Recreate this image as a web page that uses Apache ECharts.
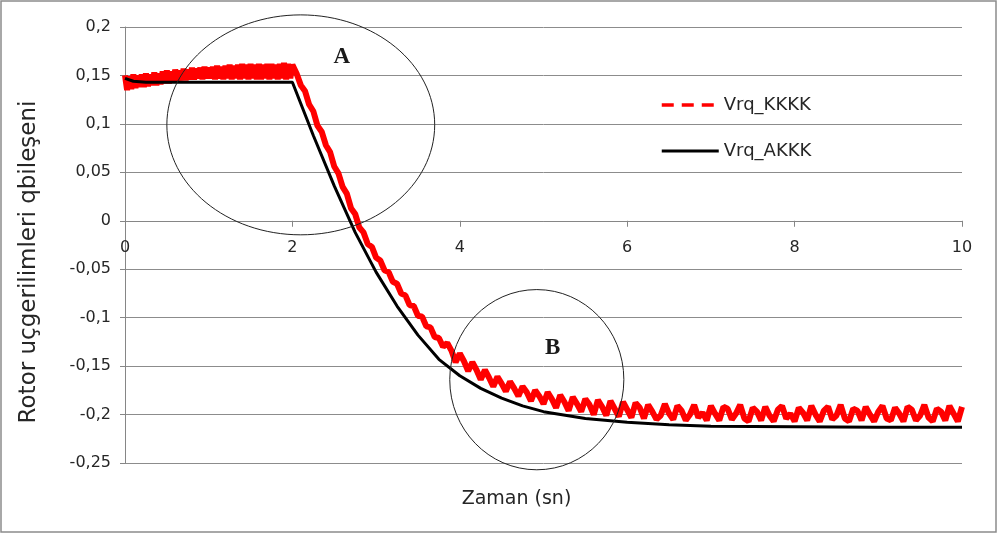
<!DOCTYPE html>
<html>
<head>
<meta charset="utf-8">
<script src="https://cdn.jsdelivr.net/npm/echarts@6/dist/echarts.min.js"></script>
<style>
  html, body { margin: 0; padding: 0; background: #fff; }
  #chart { width: 998px; height: 536px; }
</style>
</head>
<body>
<div id="chart"></div>
<script>
// Vrq_KKKK, 0 .. 2 s, one sample every 0.025 s
var redFlat = [
  0.150, 0.135, 0.149, 0.136, 0.151, 0.137, 0.150, 0.138, 0.151, 0.138,
  0.152, 0.139, 0.151, 0.140, 0.153, 0.140, 0.152, 0.141, 0.154, 0.142,
  0.155, 0.142, 0.154, 0.143, 0.156, 0.144, 0.155, 0.145, 0.157, 0.145,
  0.156, 0.146, 0.158, 0.146, 0.157, 0.147, 0.158, 0.146, 0.159, 0.147,
  0.158, 0.147, 0.159, 0.146, 0.160, 0.147, 0.159, 0.146, 0.160, 0.147,
  0.161, 0.146, 0.160, 0.147, 0.161, 0.146, 0.162, 0.147, 0.161, 0.146,
  0.162, 0.147, 0.161, 0.146, 0.162, 0.146, 0.161, 0.147, 0.162, 0.146,
  0.162, 0.147, 0.161, 0.146, 0.162, 0.147, 0.163, 0.146, 0.162, 0.147,
  0.161
];
var redFlatStep = 0.025;

// Vrq_KKKK, 2.05 .. 10 s, one sample every 0.05 s
var redDecay = [
  0.152, 0.140, 0.134, 0.120, 0.113, 0.098, 0.092, 0.078, 0.071, 0.056,
  0.049, 0.035, 0.028, 0.013, 0.007, -0.007, -0.012, -0.024, -0.027, -0.038,
  -0.041, -0.051, -0.053, -0.063, -0.065, -0.075, -0.077, -0.087, -0.088, -0.098,
  -0.099, -0.109, -0.110, -0.120, -0.121, -0.130, -0.126, -0.134, -0.146, -0.137,
  -0.145, -0.155, -0.146, -0.154, -0.164, -0.154, -0.162, -0.171, -0.161, -0.168,
  -0.176, -0.166, -0.173, -0.181, -0.171, -0.177, -0.186, -0.175, -0.181, -0.189,
  -0.177, -0.184, -0.193, -0.180, -0.187, -0.196, -0.182, -0.189, -0.197, -0.184,
  -0.190, -0.200, -0.185, -0.192, -0.201, -0.186, -0.194, -0.202, -0.187, -0.195,
  -0.203, -0.188, -0.193, -0.204, -0.190, -0.197, -0.205, -0.201, -0.189, -0.199,
  -0.205, -0.191, -0.196, -0.206, -0.200, -0.190, -0.203, -0.198, -0.206, -0.191,
  -0.199, -0.206, -0.192, -0.194, -0.205, -0.199, -0.190, -0.204, -0.207, -0.193,
  -0.197, -0.206, -0.192, -0.201, -0.207, -0.195, -0.191, -0.204, -0.199, -0.207,
  -0.193, -0.198, -0.206, -0.191, -0.200, -0.207, -0.196, -0.192, -0.205, -0.201,
  -0.190, -0.204, -0.207, -0.194, -0.196, -0.206, -0.192, -0.200, -0.207, -0.197,
  -0.191, -0.204, -0.206, -0.193, -0.199, -0.207, -0.192, -0.195, -0.206, -0.201,
  -0.190, -0.203, -0.207, -0.194, -0.197, -0.206, -0.191, -0.199, -0.207, -0.192
];
var redDecayStart = 2.05;
var redDecayStep = 0.05;

// Vrq_AKKK
var blackTime = [0, 0.1, 0.25, 1, 2, 2.25, 2.5, 2.75, 3, 3.25, 3.5, 3.75, 4, 4.25, 4.5, 4.75, 5, 5.5, 6, 6.5, 7, 8, 9, 10];
var blackValue = [0.147, 0.144, 0.143, 0.143, 0.143, 0.088, 0.036, -0.012, -0.053, -0.088, -0.118, -0.143, -0.160, -0.173, -0.183, -0.191, -0.197, -0.204, -0.208, -0.2105, -0.212, -0.2125, -0.213, -0.213];

var seriesNames = ["Vrq_KKKK", "Vrq_AKKK"];
var xTicks = { min: 0, max: 10, interval: 2 };
var yTicks = { min: -0.25, max: 0.2, interval: 0.05 };

// circled regions: centre and half-axes in data units
var regions = [
  { label: "A", cx: 2.1, cy: 0.099, rx: 1.6, ry: 0.1135, lx: 2.59, ly: 0.169 },
  { label: "B", cx: 4.92, cy: -0.164, rx: 1.04, ry: 0.093, lx: 5.11, ly: -0.131 }
];

var redData = [];
redFlat.forEach(function (v, i) {
  redData.push([+(i * redFlatStep).toFixed(3), v]);
});
redDecay.forEach(function (v, i) {
  redData.push([+(redDecayStart + i * redDecayStep).toFixed(3), v]);
});
var blackData = blackTime.map(function (t, i) {
  return [t, blackValue[i]];
});

var font = "'DejaVu Sans', Verdana, sans-serif";
var myChart = echarts.init(document.getElementById("chart"));

myChart.setOption({
  animation: false,
  backgroundColor: "#fff",
  grid: { left: 125, right: 36, top: 27, bottom: 73, outerBoundsMode: "none" },
  legend: {
    orient: "vertical",
    left: 655,
    top: 91,
    itemWidth: 57,
    itemHeight: 14,
    itemGap: 28,
    textStyle: { fontFamily: font, fontSize: 18, color: "#262626" },
    data: [
      {
        name: seriesNames[0],
        lineStyle: { color: "#ff0000", width: 3.5, type: [12, 8] },
        itemStyle: { opacity: 0 }
      },
      {
        name: seriesNames[1],
        lineStyle: { color: "#000", width: 3 },
        itemStyle: { opacity: 0 }
      }
    ]
  },
  xAxis: {
    type: "value",
    min: xTicks.min,
    max: xTicks.max,
    interval: xTicks.interval,
    name: "Zaman (sn)",
    nameLocation: "middle",
    nameGap: 269,
    nameTextStyle: { fontFamily: font, fontSize: 19, color: "#262626", padding: [0, 54, 0, 0] },
    axisLine: { onZero: false, lineStyle: { color: "#868686", width: 1 } },
    axisTick: { show: true, length: 6, lineStyle: { color: "#868686" } },
    axisLabel: { margin: 19, fontFamily: font, fontSize: 16, color: "#262626" },
    splitLine: { show: false }
  },
  yAxis: {
    type: "value",
    min: yTicks.min,
    max: yTicks.max,
    interval: yTicks.interval,
    name: "Rotor uçgerilimleri qbileşeni",
    nameLocation: "middle",
    nameGap: 84,
    nameTextStyle: { fontFamily: font, fontSize: 23, color: "#262626", padding: [0, 34, 0, 0] },
    axisLine: { show: true, onZero: false, lineStyle: { color: "#868686", width: 1 } },
    axisTick: { show: true, length: 5, lineStyle: { color: "#868686" } },
    axisLabel: {
      margin: 14,
      fontFamily: font,
      fontSize: 16,
      color: "#262626",
      formatter: function (v) {
        return String(Math.round(v * 100) / 100).replace(".", ",");
      }
    },
    splitLine: { show: true, lineStyle: { color: "#8c8c8c", width: 1 } }
  },
  series: [
    {
      name: seriesNames[0],
      type: "line",
      data: redData,
      symbol: "none",
      lineStyle: { color: "#ff0000", width: 6 },
      itemStyle: { color: "#ff0000" }
    },
    {
      name: seriesNames[1],
      type: "line",
      data: blackData,
      symbol: "none",
      lineStyle: { color: "#000", width: 3 },
      itemStyle: { color: "#000" }
    }
  ]
});

// move the time axis up to the value 0, as in the original
var zeroY = myChart.convertToPixel({ yAxisIndex: 0 }, 0);
var bottomY = myChart.convertToPixel({ yAxisIndex: 0 }, yTicks.min);

// annotations and chart frame, placed through the axes
var elements = [
  {
    type: "rect",
    shape: { x: 1, y: 1, width: 995, height: 531 },
    style: { fill: null, stroke: "#8c8c8c", lineWidth: 1.5 },
    silent: true
  }
];
regions.forEach(function (r) {
  var c = myChart.convertToPixel({ gridIndex: 0 }, [r.cx, r.cy]);
  var e = myChart.convertToPixel({ gridIndex: 0 }, [r.cx + r.rx, r.cy + r.ry]);
  var l = myChart.convertToPixel({ gridIndex: 0 }, [r.lx, r.ly]);
  elements.push({
    type: "ellipse",
    shape: { cx: c[0], cy: c[1], rx: Math.abs(e[0] - c[0]), ry: Math.abs(c[1] - e[1]) },
    style: { fill: null, stroke: "#222", lineWidth: 1 },
    z: 10,
    silent: true
  });
  elements.push({
    type: "text",
    x: l[0],
    y: l[1],
    style: {
      text: r.label,
      font: "bold 23px 'Liberation Serif', serif",
      fill: "#1a1a1a",
      align: "center",
      verticalAlign: "middle"
    },
    z: 10,
    silent: true
  });
});
myChart.setOption({
  xAxis: { offset: zeroY - bottomY },
  graphic: { elements: elements }
});
</script>
</body>
</html>
